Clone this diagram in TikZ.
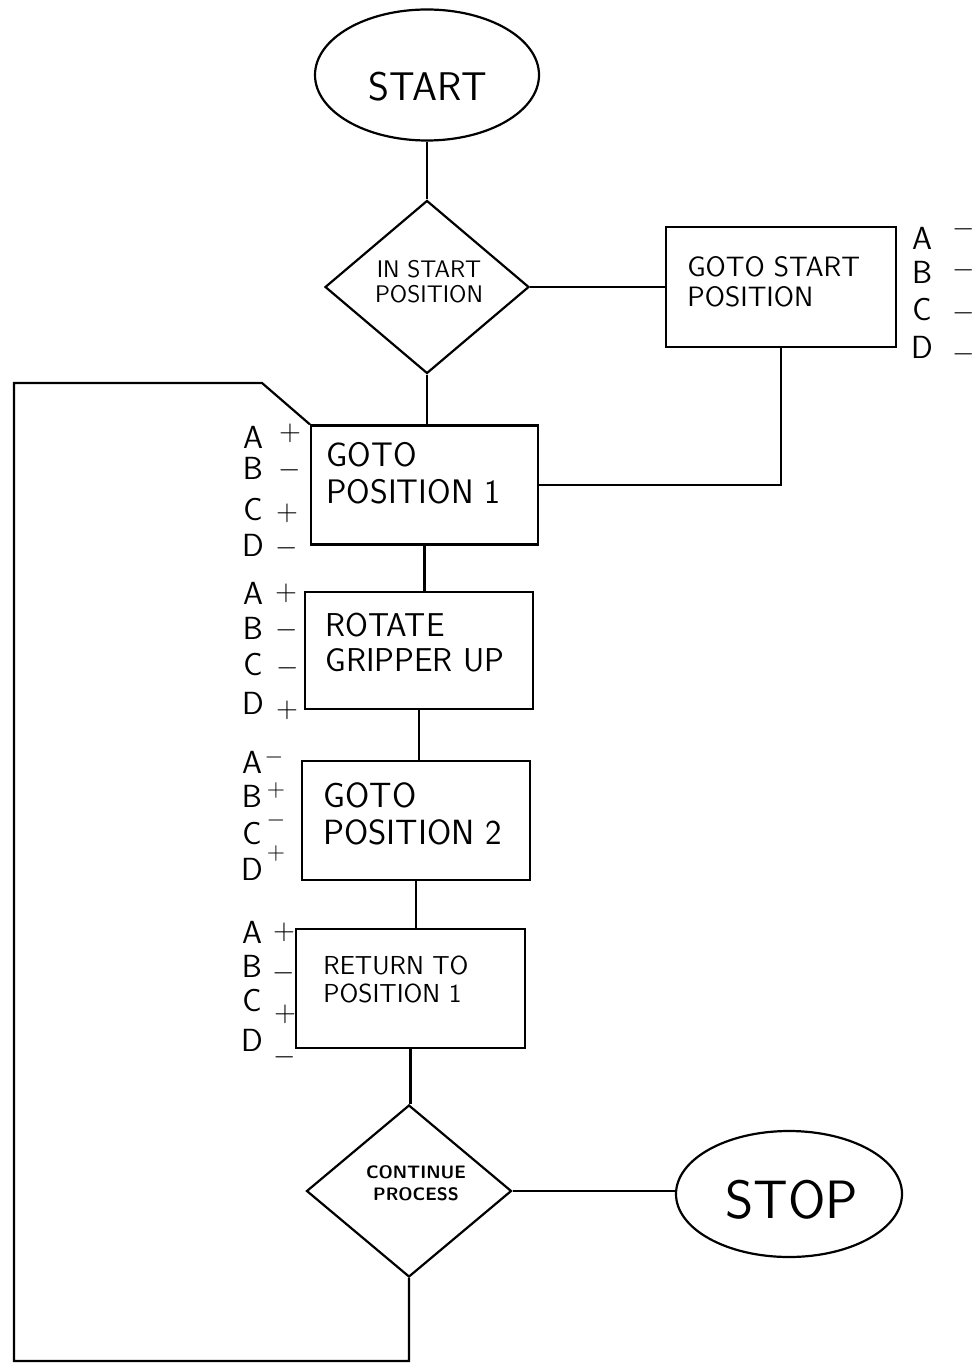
\documentclass[tikz,border=0pt]{standalone}
\usetikzlibrary{shapes.geometric}
\renewcommand{\familydefault}{\sfdefault}
\newcommand{\myfs}[2]{\fontsize{#1}{#2}\selectfont}
\tikzset{
  conn/.style={line width=1.1pt, line join=miter},
  box/.style={draw, line width=1.1pt, rectangle, inner sep=0pt},
  term/.style={draw, line width=1.1pt, ellipse, inner sep=0pt},
  decis/.style={draw, line width=1.1pt, diamond, inner sep=0pt},
  boxtext/.style={anchor=west, align=left, inner sep=0pt},
  ctext/.style={align=center, inner sep=0pt},
  lab/.style={inner sep=0pt, font=\myfs{16}{16}},
  sgn/.style={inner sep=0pt, font=\myfs{15}{15}},
  ssgn/.style={inner sep=0pt, font=\myfs{12}{12}},
}
\begin{document}
\begin{tikzpicture}[x=0.5pt,y=-0.5pt]
\useasboundingbox[fill=white] (0,0) rectangle (976,1363);

% terminals and decisions
\node[term, minimum width=112pt, minimum height=65.5pt] (start) at (427,75) {};
\node[ctext, font=\myfs{20}{20}] (startt) at (428,87) {START};

\node[decis, minimum width=102pt, minimum height=86.5pt] (isp) at (427,287) {};
\node[ctext, font=\myfs{12}{12.5}] (ispt) at (429,282) {IN START\\POSITION};

\node[term, minimum width=113pt, minimum height=63pt] (stop) at (789,1194) {};
\node[ctext, font=\myfs{27}{27}] (stopt) at (792,1200) {STOP};

\node[decis, minimum width=102.5pt, minimum height=86pt] (cont) at (409,1191) {};
\node[ctext, font=\myfs{9}{11}\bfseries] (contt) at (416,1183) {CONTINUE\\PROCESS};

% process boxes
\node[box, minimum width=115pt, minimum height=60pt] (gs) at (781,287) {};
\node[boxtext, font=\myfs{14}{15}] (gst) at (687,282) {GOTO START\\POSITION};

\node[box, minimum width=113.5pt, minimum height=59.5pt] (p1) at (424.5,485) {};
\node[boxtext, font=\myfs{17}{18.5}] (p1t) at (326,473.5) {GOTO\\POSITION 1};

\node[box, minimum width=114pt, minimum height=58.5pt] (rot) at (419,650.5) {};
\node[boxtext, font=\myfs{16.5}{17.5}] (rott) at (325,642.5) {ROTATE\\GRIPPER UP};

\node[box, minimum width=114pt, minimum height=59.5pt] (p2) at (416,820.5) {};
\node[boxtext, font=\myfs{17.5}{18.5}] (p2t) at (323,813.5) {GOTO\\POSITION 2};

\node[box, minimum width=114.5pt, minimum height=59.5pt] (ret) at (410.5,988.5) {};
\node[boxtext, font=\myfs{13}{14}] (rett) at (323,979) {RETURN TO\\POSITION 1};

% connectors
\draw[conn] (start.south) -- (isp.north);
\draw[conn] (isp.east) -- (isp.east -| gs.west);
\draw[conn] (isp.south) -- (isp.south |- p1.north);
\draw[conn] (gs.south) |- (p1.east);
\draw[conn] (p1.south) -- (p1.south |- rot.north);
\draw[conn] (rot.south) -- (rot.south |- p2.north);
\draw[conn] (p2.south) -- (p2.south |- ret.north);
\draw[conn] (ret.south) -- (ret.south |- cont.north);
\draw[conn] (cont.east) -- (cont.east -| stop.west);
\coordinate (lb) at (14,1361);
\coordinate (lt) at (14,383);
\coordinate (kink) at (262,383);
\draw[conn] (cont.south) -- (cont.south |- lb) -- (lb) -- (lt) -- (kink) -- (p1.north west);

% signal labels: GOTO START POSITION
\node[lab] (gsA) at (922,238) {A}; \node[sgn] (gsAs) at (964,229) {$-$};
\node[lab] (gsB) at (922,272) {B}; \node[sgn] (gsBs) at (964,270) {$-$};
\node[lab] (gsC) at (922,310) {C}; \node[sgn] (gsCs) at (964,313) {$-$};
\node[lab] (gsD) at (922,347) {D}; \node[sgn] (gsDs) at (964,354) {$-$};

% GOTO POSITION 1
\node[lab] (p1A) at (253,437) {A}; \node[sgn] (p1As) at (290,433) {$+$};
\node[lab] (p1B) at (253,468) {B}; \node[sgn] (p1Bs) at (290,470) {$-$};
\node[lab] (p1C) at (253,510) {C}; \node[sgn] (p1Cs) at (287,513) {$+$};
\node[lab] (p1D) at (253,545) {D}; \node[sgn] (p1Ds) at (287,548) {$-$};

% ROTATE GRIPPER UP
\node[lab] (rA) at (253,593) {A}; \node[sgn] (rAs) at (286,593) {$+$};
\node[lab] (rB) at (253,628) {B}; \node[sgn] (rBs) at (287,630) {$-$};
\node[lab] (rC) at (253,665) {C}; \node[sgn] (rCs) at (288,668) {$-$};
\node[lab] (rD) at (253,703) {D}; \node[sgn] (rDs) at (287,710) {$+$};

% GOTO POSITION 2
\node[lab] (p2A) at (252,762) {A}; \node[ssgn] (p2As) at (274,757) {$-$};
\node[lab] (p2B) at (252,796) {B}; \node[ssgn] (p2Bs) at (276,790) {$+$};
\node[lab] (p2C) at (252,834) {C}; \node[ssgn] (p2Cs) at (276,820) {$-$};
\node[lab] (p2D) at (252,869) {D}; \node[ssgn] (p2Ds) at (276,853) {$+$};

% RETURN TO POSITION 1
\node[lab] (reA) at (252,932) {A}; \node[sgn] (reAs) at (284,932) {$+$};
\node[lab] (reB) at (252,966) {B}; \node[sgn] (reBs) at (284,973) {$-$};
\node[lab] (reC) at (252,1000) {C}; \node[sgn] (reCs) at (285,1014) {$+$};
\node[lab] (reD) at (252,1040) {D}; \node[sgn] (reDs) at (285,1057) {$-$};
\end{tikzpicture}
\end{document}
